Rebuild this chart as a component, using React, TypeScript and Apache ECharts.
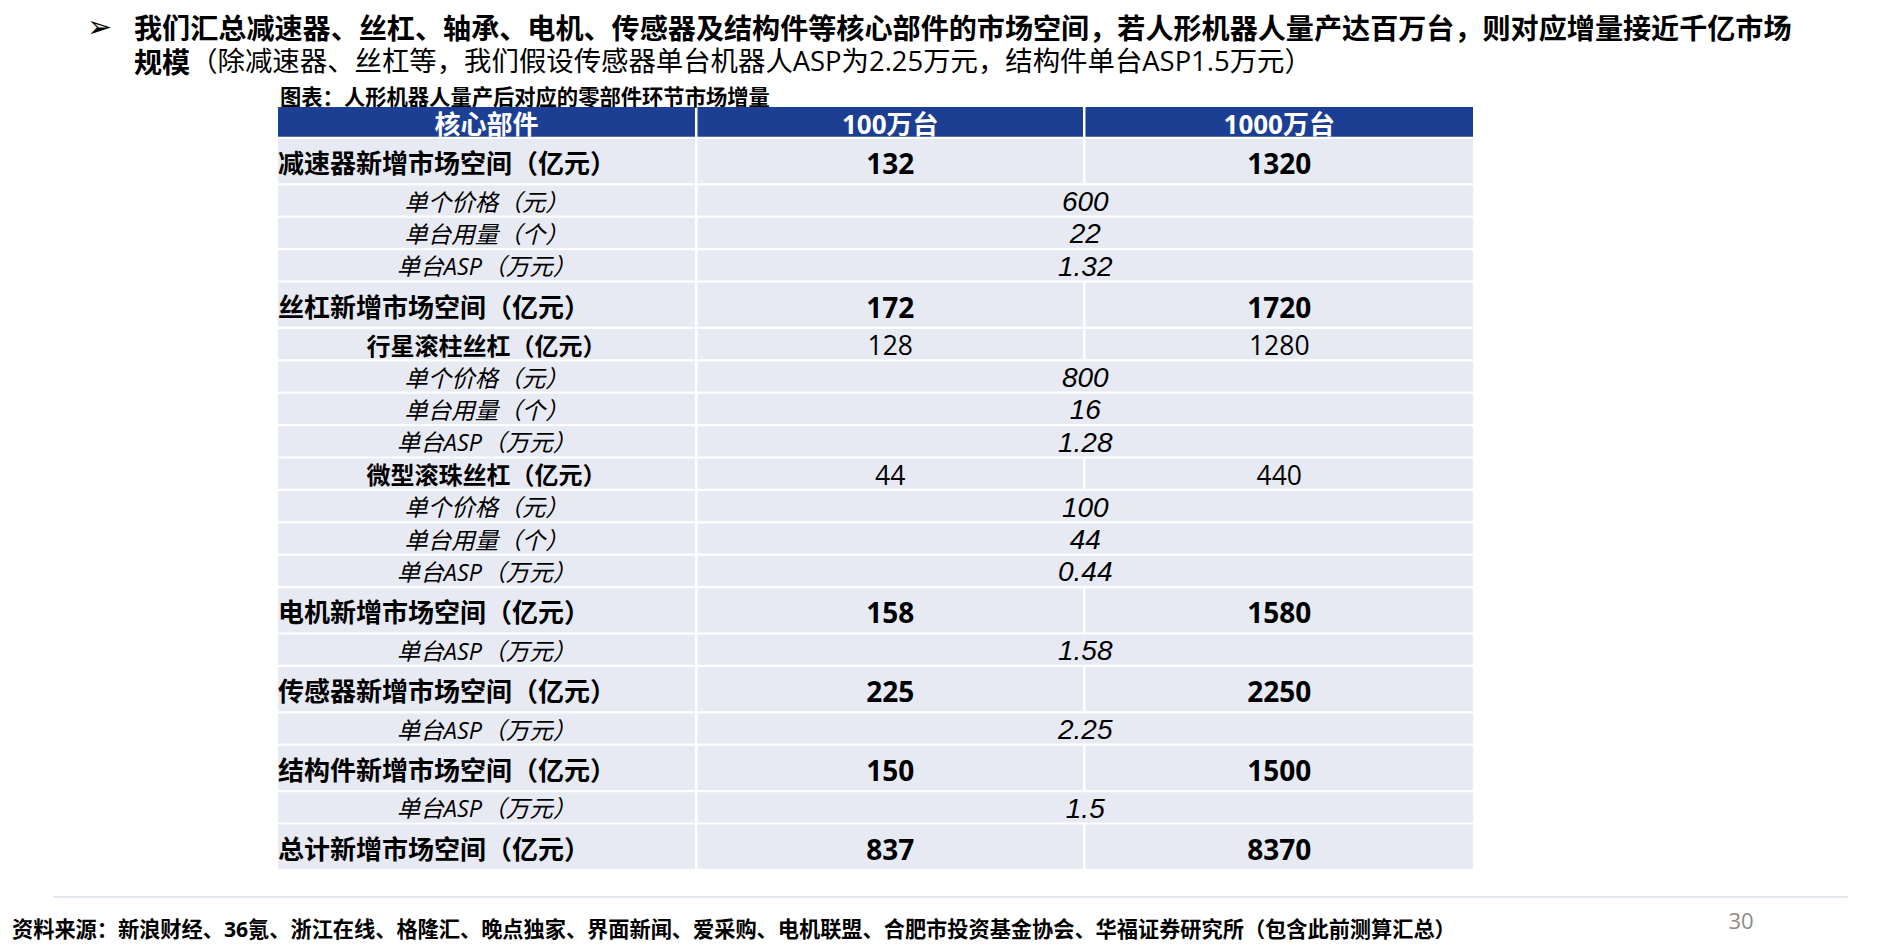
import { useEffect, useRef } from "react";
import * as echarts from "echarts";

// ---------- data ----------
const headerLabels = ["核心部件", "100万台", "1000万台"];
const rowLabels = [
  "减速器新增市场空间（亿元）",
  "单个价格（元）",
  "单台用量（个）",
  "单台ASP（万元）",
  "丝杠新增市场空间（亿元）",
  "行星滚柱丝杠（亿元）",
  "单个价格（元）",
  "单台用量（个）",
  "单台ASP（万元）",
  "微型滚珠丝杠（亿元）",
  "单个价格（元）",
  "单台用量（个）",
  "单台ASP（万元）",
  "电机新增市场空间（亿元）",
  "单台ASP（万元）",
  "传感器新增市场空间（亿元）",
  "单台ASP（万元）",
  "结构件新增市场空间（亿元）",
  "单台ASP（万元）",
  "总计新增市场空间（亿元）",
];
const rowLevels = [
  "total", "param", "param", "param",
  "total", "sub", "param", "param", "param",
  "sub", "param", "param", "param",
  "total", "param",
  "total", "param",
  "total", "param",
  "total",
];
const market100 = [132, null, null, null, 172, 128, null, null, null, 44, null, null, null, 158, null, 225, null, 150, null, 837];
const market1000 = [1320, null, null, null, 1720, 1280, null, null, null, 440, null, null, null, 1580, null, 2250, null, 1500, null, 8370];
const paramValues = [null, 600, 22, 1.32, null, null, 800, 16, 1.28, null, 100, 44, 0.44, null, 1.58, null, 2.25, null, 1.5, null];

const titleLine1 = "我们汇总减速器、丝杠、轴承、电机、传感器及结构件等核心部件的市场空间，若人形机器人量产达百万台，则对应增量接近千亿市场";
const titleLine2Bold = "规模";
const titleLine2Rest = "（除减速器、丝杠等，我们假设传感器单台机器人ASP为2.25万元，结构件单台ASP1.5万元）";
const caption = "图表：人形机器人量产后对应的零部件环节市场增量";
const sourceNote = "资料来源：新浪财经、36氪、浙江在线、格隆汇、晚点独家、界面新闻、爱采购、电机联盟、合肥市投资基金协会、华福证券研究所（包含此前测算汇总）";
const pageNumber = "30";

// ---------- style / layout ----------
const FONT = "'Open Sans', 'Noto Sans CJK SC', sans-serif";
const CJK = "'Noto Sans CJK SC', sans-serif";
const DIGITS_IT = "'Liberation Sans', 'Open Sans', sans-serif";
const BLUE = "#1c3f94";
const CELL = "#e8eaf3";
const TABLE_LEFT = 278;
const TABLE_TOP = 107;
const TABLE_WIDTH = 1195;
const colEdges = [0, 419.5, 807.5, 1195];
const GAP_X = 2.5;
const GAP_Y = 2.2;
const pitch: Record<string, number> = { header: 32, total: 46.4, sub: 32.4, param: 32.4 };

type Cell = { x0: number; x1: number; y0: number; y1: number; text: string; kind: string; align: string };

function buildCells() {
  const cells: Cell[] = [];
  let y = 0;
  headerLabels.forEach((h, c) => {
    cells.push({ x0: colEdges[c], x1: colEdges[c + 1], y0: y, y1: y + pitch.header, text: h, kind: "header", align: "center" });
  });
  y += pitch.header;
  rowLabels.forEach((label, i) => {
    const lvl = rowLevels[i];
    const h = pitch[lvl];
    cells.push({
      x0: colEdges[0], x1: colEdges[1], y0: y, y1: y + h, text: label,
      kind: lvl + "Label", align: lvl === "total" ? "left" : "center",
    });
    if (lvl === "param") {
      const v = paramValues[i];
      cells.push({ x0: colEdges[1], x1: colEdges[3], y0: y, y1: y + h, text: v == null ? "" : String(v), kind: "paramValue", align: "center" });
    } else {
      const a = market100[i];
      const b = market1000[i];
      cells.push({ x0: colEdges[1], x1: colEdges[2], y0: y, y1: y + h, text: a == null ? "" : String(a), kind: lvl + "Value", align: "center" });
      cells.push({ x0: colEdges[2], x1: colEdges[3], y0: y, y1: y + h, text: b == null ? "" : String(b), kind: lvl + "Value", align: "center" });
    }
    y += h;
  });
  return { cells, totalHeight: y };
}

const textStyles: Record<string, any> = {
  header: { fontSize: 26, fontWeight: "bold", fill: "#ffffff", fontStyle: "normal", dy: 2.5, family: FONT },
  totalLabel: { fontSize: 26, fontWeight: "bold", fill: "#000000", fontStyle: "normal", dy: 2, family: FONT },
  totalValue: { fontSize: 28, fontWeight: "bold", fill: "#000000", fontStyle: "normal", dy: 2, family: FONT },
  subLabel: { fontSize: 24, fontWeight: "bold", fill: "#000000", fontStyle: "normal", dy: 1, family: FONT },
  subValue: { fontSize: 26.5, fontWeight: "normal", fill: "#000000", fontStyle: "normal", dy: 1, family: FONT },
  paramLabel: { fontSize: 23.5, fontWeight: "normal", fill: "#000000", fontStyle: "italic", dy: 1, family: FONT },
  paramValue: { fontSize: 28, fontWeight: "normal", fill: "#000000", fontStyle: "italic", dy: 1, family: DIGITS_IT },
};

export default function App() {
  const ref = useRef<HTMLDivElement>(null);
  useEffect(() => {
    if (!ref.current) return;
    const chart = echarts.init(ref.current, undefined, { renderer: "svg" });
    const { cells, totalHeight } = buildCells();
    const data = cells.map((c, i) => [c.x0, c.x1, c.y0, c.y1, i]);

    const option: any = {
      animation: false,
      backgroundColor: "#ffffff",
      grid: { left: TABLE_LEFT, top: TABLE_TOP, width: TABLE_WIDTH, height: totalHeight, containLabel: false },
      xAxis: { type: "value", min: 0, max: TABLE_WIDTH, show: false },
      yAxis: { type: "value", min: 0, max: totalHeight, inverse: true, show: false },
      series: [
        {
          type: "custom",
          coordinateSystem: "cartesian2d",
          data,
          silent: true,
          renderItem: (params: any, api: any) => {
            const idx = api.value(4);
            const cell = cells[idx];
            const p0 = api.coord([api.value(0), api.value(2)]);
            const p1 = api.coord([api.value(1), api.value(3)]);
            const isLastCol = cell.x1 >= TABLE_WIDTH;
            const w = p1[0] - p0[0] - (isLastCol ? 0 : GAP_X);
            const h = p1[1] - p0[1] - GAP_Y;
            const ts = textStyles[cell.kind];
            const tx = cell.align === "left" ? p0[0] : p0[0] + w / 2;
            const ty = p0[1] + h / 2 + ts.dy;
            return {
              type: "group",
              children: [
                {
                  type: "rect",
                  shape: { x: p0[0], y: p0[1], width: w, height: h },
                  style: { fill: cell.kind === "header" ? BLUE : CELL },
                },
                {
                  type: "text",
                  x: tx,
                  y: ty,
                  style: {
                    text: cell.text,
                    fill: ts.fill,
                    fontSize: ts.fontSize,
                    fontWeight: ts.fontWeight,
                    fontStyle: ts.fontStyle,
                    fontFamily: ts.family,
                    align: cell.align,
                    verticalAlign: "middle",
                    lineHeight: Math.min(ts.fontSize, h - 2),
                  },
                },
              ],
            };
          },
        },
      ],
      graphic: [
        {
          type: "text",
          x: 87,
          y: 26,
          style: { text: "➢", fontSize: 30, fontFamily: "'DejaVu Sans', sans-serif", fill: "#000", verticalAlign: "middle", align: "left", lineHeight: 30 },
        },
        {
          type: "text",
          x: 134,
          y: 9,
          style: {
            text: `{b|${titleLine1}}\n{b|${titleLine2Bold}}{r|${titleLine2Rest}}`,
            fontFamily: FONT,
            verticalAlign: "top",
            align: "left",
            lineHeight: 34,
            rich: {
              b: { fontSize: 28.1, fontWeight: "bold", fontFamily: CJK, fill: "#000", lineHeight: 34 },
              r: { fontSize: 27.4, fontWeight: "normal", fontFamily: FONT, fill: "#000", lineHeight: 34 },
            },
          },
        },
        {
          type: "text",
          x: 280,
          y: 95,
          style: { text: caption, fontSize: 21.3, fontWeight: "bold", fontFamily: CJK, fill: "#000", verticalAlign: "middle", align: "left", lineHeight: 22 },
        },
        {
          type: "line",
          shape: { x1: 53, y1: 897, x2: 1848, y2: 897 },
          style: { stroke: "#d8deea", lineWidth: 1.5 },
        },
        {
          type: "text",
          x: 12,
          y: 928,
          style: { text: sourceNote, fontSize: 21.2, fontWeight: "bold", fontFamily: FONT, fill: "#000", verticalAlign: "middle", align: "left", lineHeight: 24 },
        },
        {
          type: "text",
          x: 1741,
          y: 920,
          style: { text: pageNumber, fontSize: 22, fontFamily: FONT, fill: "#8c8c8c", verticalAlign: "middle", align: "center", lineHeight: 24 },
        },
      ],
    };
    chart.setOption(option);
    return () => chart.dispose();
  }, []);
  return <div ref={ref} style={{ position: "fixed", left: 0, top: 0, width: 1894, height: 946 }} />;
}
